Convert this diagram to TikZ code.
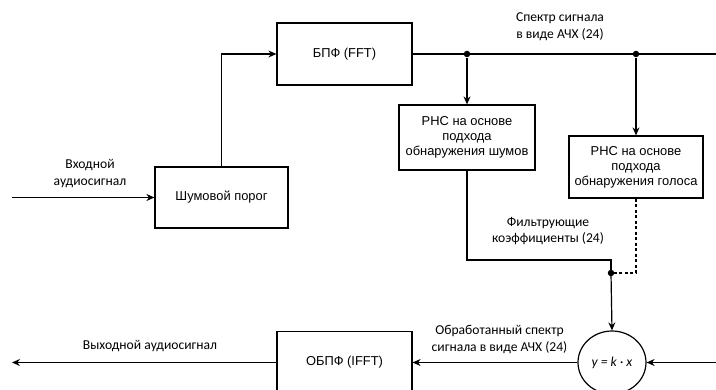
\documentclass[tikz,border=0pt]{standalone}
\usepackage{fontspec}
\setmainfont{Liberation Sans}
\newfontfamily\lblfont{Carlito}
\usetikzlibrary{arrows.meta,shapes.geometric}
\begin{document}
\begin{tikzpicture}[x=1pt,y=-1pt,
  line width=1.2pt,
  box/.style={draw, line width=1.2pt, align=center, inner sep=0pt,
    font=\fontsize{12.9}{15}\selectfont},
  lbl/.style={align=center, inner sep=0pt, font=\lblfont\fontsize{13.6}{16.5}\selectfont},
  arr/.style={-{Stealth[length=8pt,width=7pt]}},
  dot/.style={circle, fill=black, inner sep=0pt, minimum size=6.5pt},
]
\useasboundingbox (0,0) rectangle (716,390);

% boxes
\node[box, minimum width=133pt, minimum height=61pt] (gate) at (221.5,197.5) {Шумовой порог};
\node[box, minimum width=135pt, minimum height=62pt] (fft) at (344.5,54) {БПФ (FFT)};
\node[box, minimum width=136pt, minimum height=65pt] (rnsn) at (467,137.5) {РНС на основе\\подхода\\обнаружения шумов};
\node[box, minimum width=134pt, minimum height=62pt] (rnsv) at (636,167) {РНС на основе\\подхода\\обнаружения голоса};
\node[box, minimum width=135pt, minimum height=62pt] (ifft) at (344.5,362.5) {ОБПФ (IFFT)};
\node[draw, ellipse, line width=1.2pt, minimum width=68pt, minimum height=63pt, inner sep=0pt,
  font=\lblfont\itshape\fontsize{13.6}{15}\selectfont] (mul) at (612,362.5) {y = k · x};

% coordinates
\coordinate (inL) at (12,197.5);
\coordinate (outL) at (12,362.5);
\coordinate (specR) at (716,54);
\coordinate (procR) at (716,362.5);
\node[dot] (d1) at (467,54) {};
\node[dot] (d2) at (636,54) {};
\node[dot] (d3) at (611,273) {};
\coordinate (c1) at (221.5,54);
\coordinate (c2) at (467,260);
\coordinate (c3) at (611,260);
\coordinate (c4) at (636,273);

% connectors
\draw[arr] (inL) -- (gate.west);
\draw[arr] (gate.north) -- (c1) -- (fft.west);
\draw (fft.east) -- (specR);
\draw[arr] (d1) -- (rnsn.north);
\draw[arr] (d2) -- (rnsv.north);
\draw (rnsn.south) -- (c2) -- (c3) -- (d3.center);
\draw[dashed, dash pattern=on 3pt off 2.5pt] (rnsv.south) -- (c4) -- (d3.center);
\draw[arr] (d3.center) -- (mul.north);
\draw[arr] (procR) -- (mul.east);
\draw[arr] (mul.west) -- (ifft.east);
\draw[arr] (ifft.west) -- (outL);

% labels
\node[lbl] (l1) at (90,173.5) {Входной\\аудиосигнал};
\node[lbl] (l2) at (560,26.5) {Спектр сигнала\\в виде АЧХ (24)};
\node[lbl] (l3) at (548,231) {Фильтрующие\\коэффициенты (24)};
\node[lbl] (l4) at (499.5,339.5) {Обработанный спектр\\сигнала в виде АЧХ (24)};
\node[lbl] (l5) at (150,346.5) {Выходной аудиосигнал};
\end{tikzpicture}
\end{document}
